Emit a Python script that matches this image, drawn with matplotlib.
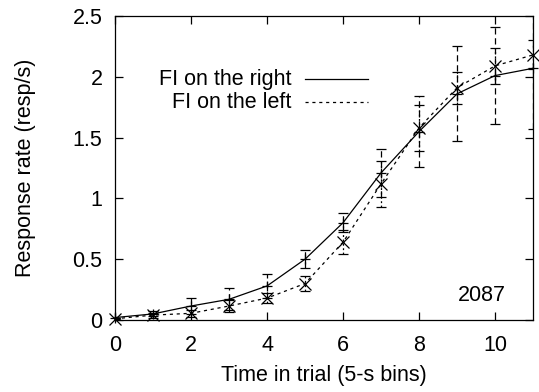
import matplotlib
matplotlib.use("Agg")
import matplotlib.pyplot as plt
import numpy as np

# ---------------------------------------------------------------------------

plt.rcParams['font.family'] = ['Liberation Sans', 'DejaVu Sans']
plt.rcParams['font.size'] = 15.5

bins = np.arange(0, 12)

right_rate = [0.02, 0.05, 0.115, 0.17, 0.28, 0.50, 0.80, 1.21, 1.55, 1.86, 2.01, 2.07]
right_err  = [0.00, 0.02, 0.065, 0.09, 0.10, 0.075, 0.08, 0.20, 0.29, 0.39, 0.40, 0.50]

left_rate = [0.01, 0.04, 0.055, 0.115, 0.18, 0.30, 0.64, 1.12, 1.58, 1.91, 2.09, 2.18]
left_err  = [0.00, 0.02, 0.03, 0.05, 0.04, 0.06, 0.10, 0.19, 0.19, 0.13, 0.15, 0.12]

labels = ["FI on the right", "FI on the left"]
subject = "2087"

# ---------------------------------------------------------------------------

fig = plt.figure(figsize=(5.39, 3.92), dpi=100)
ax = fig.add_axes([0.2134, 0.1837, 0.7756, 0.7755])

# error bars
eb1 = ax.errorbar(bins, right_rate, yerr=right_err, fmt='none', ecolor='black',
                  elinewidth=0.9, capsize=3.5, capthick=0.9)
eb1[2][0].set_linestyle((0, (5, 3)))
eb2 = ax.errorbar(bins, left_rate, yerr=left_err, fmt='none', ecolor='black',
                  elinewidth=0.9, capsize=3.5, capthick=0.9)
eb2[2][0].set_linestyle((0, (1.5, 2)))

# curves
ax.plot(bins, right_rate, color='black', lw=0.9, marker='+', ms=7, mew=0.9,
        clip_on=False)
ax.plot(bins, left_rate, color='black', lw=0.9, ls=(0, (2.5, 3)), marker='x',
        ms=8, mew=0.9, clip_on=False)

ax.set_xlim(0, 11)
ax.set_ylim(0, 2.5)
ax.set_xticks([0, 2, 4, 6, 8, 10])
ax.set_yticks([0, 0.5, 1, 1.5, 2, 2.5])
ax.set_yticklabels(['0', '0.5', '1', '1.5', '2', '2.5'])
ax.tick_params(direction='in', top=True, right=True, length=6, width=0.9)
ax.tick_params(axis='x', pad=11)
ax.tick_params(axis='y', pad=9)
for s in ax.spines.values():
    s.set_linewidth(0.9)

ax.set_xlabel("Time in trial (5-s bins)", va='center')
ax.set_ylabel("Response rate (resp/s)", va='center')
ax.xaxis.set_label_coords(0.5, -0.182)
ax.yaxis.set_label_coords(-0.215, 0.5)

# key, gnuplot style: text right aligned, sample line to its right
tr = ax.transAxes
ax.text(0.423, 0.792, labels[0], transform=tr, ha='right', va='center')
ax.text(0.423, 0.716, labels[1], transform=tr, ha='right', va='center')
ax.plot([0.454, 0.605], [0.792, 0.792], color='black', lw=0.9, transform=tr)
ax.plot([0.454, 0.605], [0.716, 0.716], color='black', lw=0.9,
        ls=(0, (2.5, 3)), transform=tr)

ax.text(9.66, 0.20, subject, ha='center', va='center')

fig.savefig("out.png", dpi=100)
